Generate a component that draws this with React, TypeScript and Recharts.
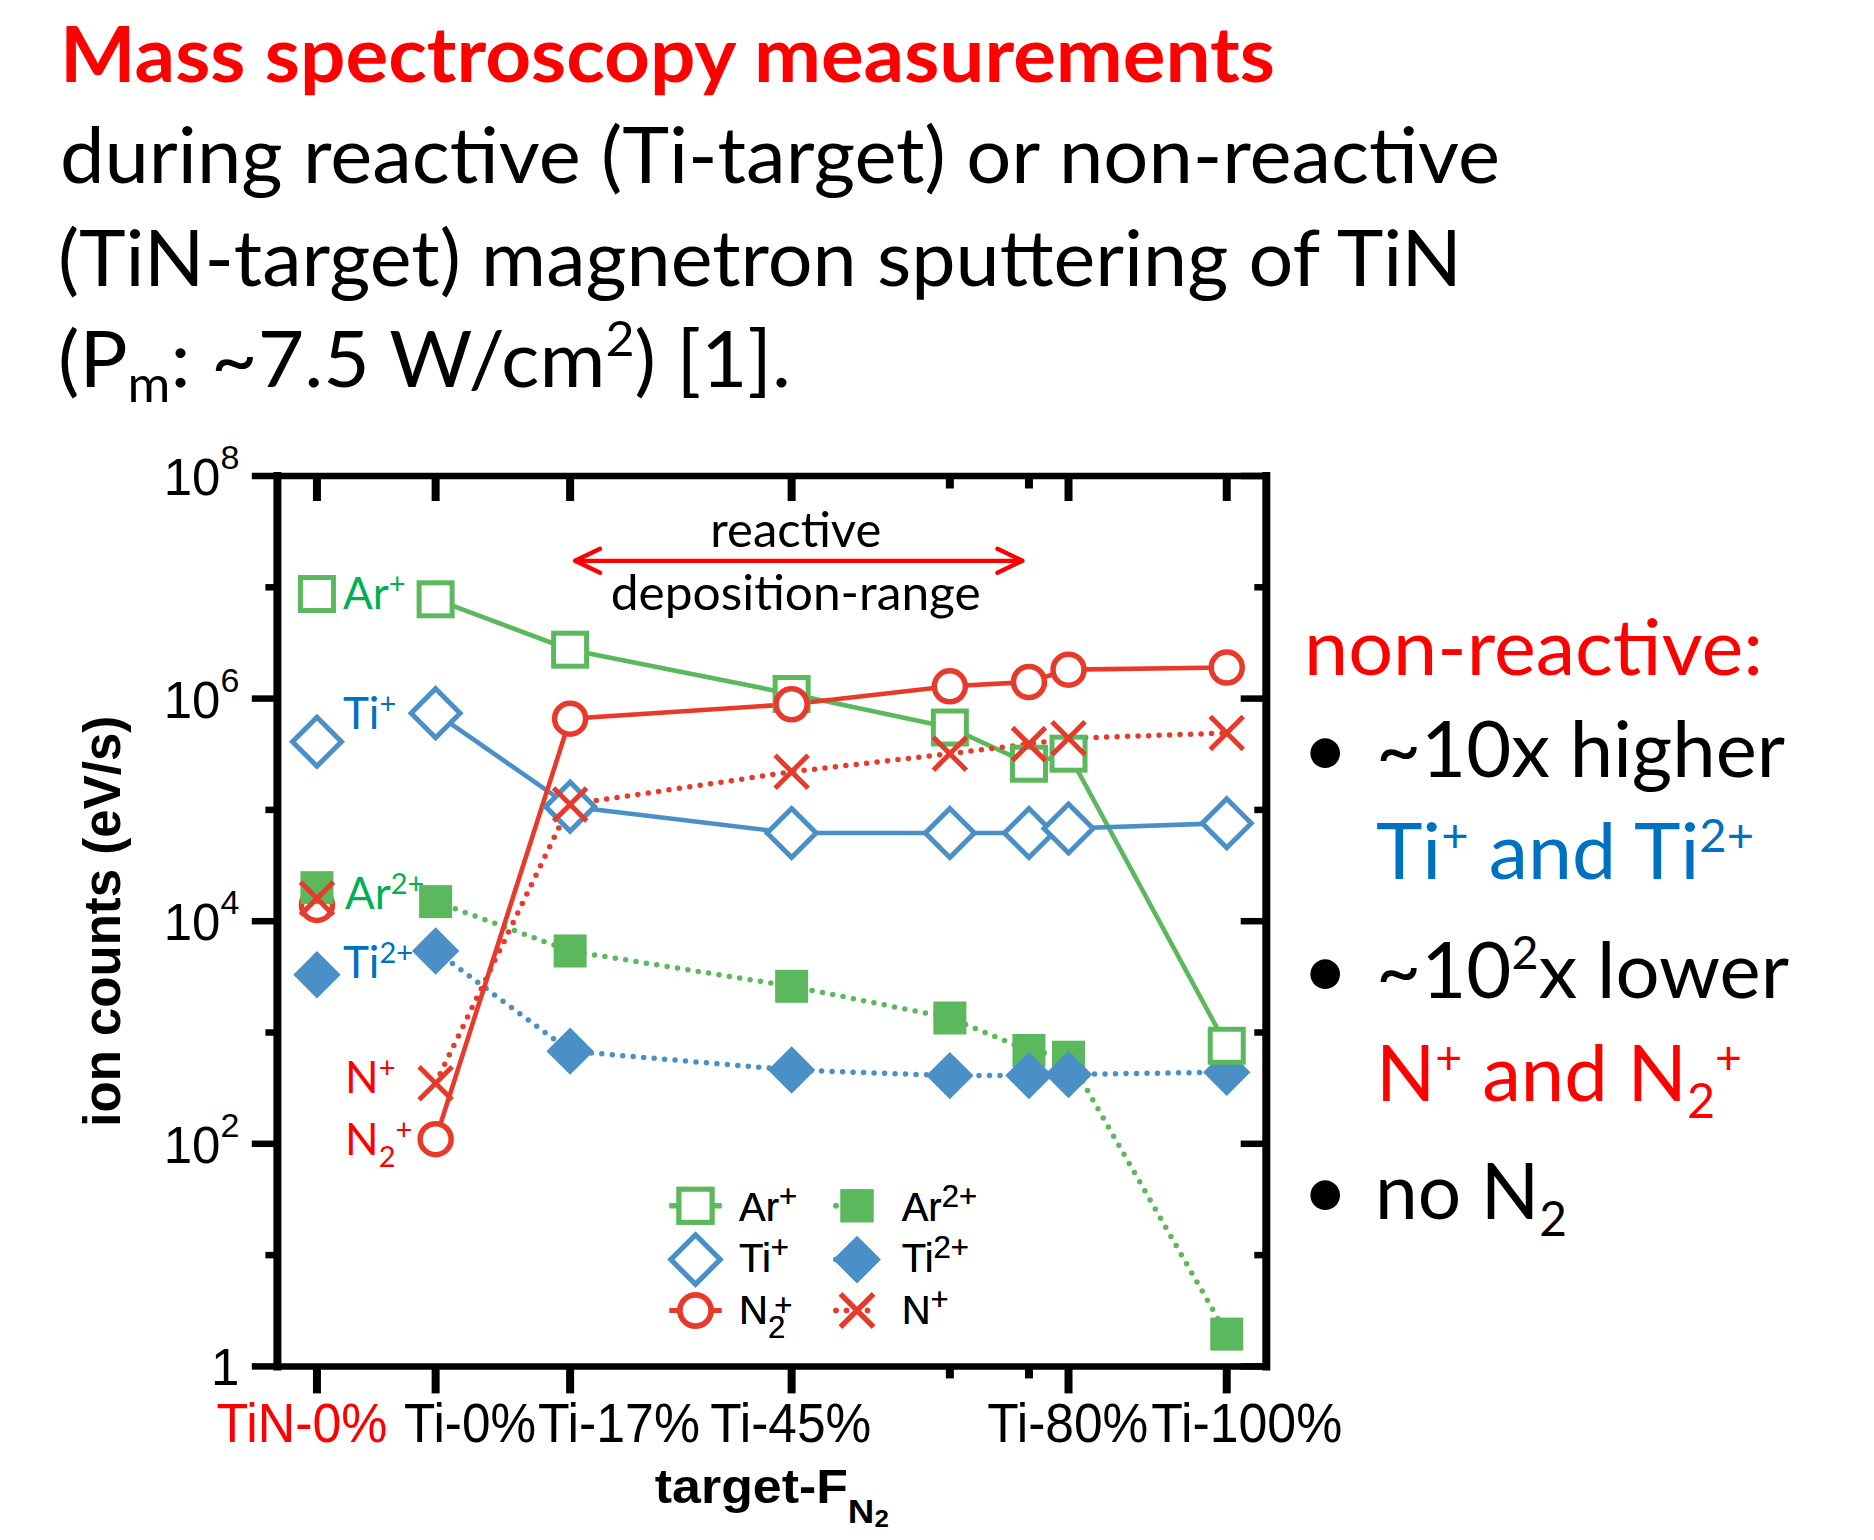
import React from 'react';
import { LineChart, Line, XAxis, YAxis, ReferenceLine, Legend } from 'recharts';

// N2 share of the gas flow for the Ti-target runs (%)
const tiTargetFlow = [0, 17, 45, 65, 75, 80, 100];
// the TiN-target run (0 % N2) is drawn left of the Ti-target runs
const tinTargetFlow = -15;

// ion counts (eV/s), Ti target
const arPlus = [7.8e6, 2.75e6, 1.1e6, 5.5e5, 2.6e5, 3.2e5, 760];
const ar2Plus = [1.5e4, 5.4e3, 2.6e3, 1.35e3, 690, 600, 1.95];
const tiPlus = [7.4e5, 1.07e5, 6.2e4, 6.2e4, 6.2e4, 6.8e4, 7.6e4];
const ti2Plus = [5.4e3, 680, 460, 410, 410, 420, 440];
const n2Plus = [110, 6.6e5, 8.9e5, 1.29e6, 1.41e6, 1.82e6, 1.9e6];
const nPlus = [350, 1.12e5, 2.2e5, 3.2e5, 3.9e5, 4.4e5, 4.9e5];

// ion counts (eV/s), TiN target
const arPlusTiN = 8.7e6;
const ar2PlusTiN = 2.0e4;
const tiPlusTiN = 4.1e5;
const ti2PlusTiN = 3.3e3;
const n2PlusTiN = 1.4e4;
const nPlusTiN = 1.6e4;

const xTicks = [-15, 0, 17, 45, 65, 75, 80, 100];
const xTickLabels = ['TiN-0%', 'Ti-0%', 'Ti-17%', 'Ti-45%', '', '', 'Ti-80%', 'Ti-100%'];
const yTicks = [1, 1e1, 1e2, 1e3, 1e4, 1e5, 1e6, 1e7, 1e8];

// reactive deposition range arrow
const reactiveFrom = 17.5;
const reactiveTo = 74.3;
const reactiveLevel = 1.73e7;

// ---- layout ----
const W = 1874;
const H = 1540;
const PLOT_LEFT = 277.4;
const PLOT_TOP = 476;
const PLOT_RIGHT = 1266.3;
const PLOT_BOTTOM = 1366.4;
const Y_AXIS_W = 200;
const X_AXIS_H = 100;

// tick labels are nudged sideways so they don't collide
const xLabelShift = [-15, 34.4, 48.8, -0.8, 0, 0, -0.8, 20];
const xLabelWidth = [171, 132, 162, 161, 0, 0, 161, 191];

const GREEN = '#5cb85c';
const BLUE = '#4a90c6';
const RED = '#e83a2a';
const TAG_GREEN = '#00b050';
const TAG_BLUE = '#0070c0';
const TAG_RED = '#ff0000';
const AXIS_FONT = '"Liberation Sans", Arial, sans-serif';
const TEXT_FONT = 'Lato, "Open Sans", sans-serif';

type MarkKind = 'openSquare' | 'square' | 'openDiamond' | 'diamond' | 'circle' | 'cross';
type Ion = { base: string; sub?: string; sup?: string };

const IONS: Record<string, Ion> = {
  'Ar+': { base: 'Ar', sup: '+' },
  'Ar2+': { base: 'Ar', sup: '2+' },
  'Ti+': { base: 'Ti', sup: '+' },
  'Ti2+': { base: 'Ti', sup: '2+' },
  'N2+': { base: 'N', sub: '2', sup: '+' },
  'N+': { base: 'N', sup: '+' },
};

const SERIES: Record<string, { kind: MarkKind; color: string; dotted: boolean }> = {
  'Ar+': { kind: 'openSquare', color: GREEN, dotted: false },
  'Ar2+': { kind: 'square', color: GREEN, dotted: true },
  'Ti+': { kind: 'openDiamond', color: BLUE, dotted: false },
  'Ti2+': { kind: 'diamond', color: BLUE, dotted: true },
  'N2+': { kind: 'circle', color: RED, dotted: false },
  'N+': { kind: 'cross', color: RED, dotted: true },
};

const LEGEND_SLOTS: Record<string, { col: number; row: number }> = {
  'Ar+': { col: 0, row: 0 },
  'Ti+': { col: 0, row: 1 },
  'N2+': { col: 0, row: 2 },
  'Ar2+': { col: 1, row: 0 },
  'Ti2+': { col: 1, row: 1 },
  'N+': { col: 1, row: 2 },
};

const tiRows = (vals: number[]) => tiTargetFlow.map((x, i) => ({ x, y: vals[i] }));
const tinRow = (v: number) => [{ x: tinTargetFlow, y: v }];

function Mark({ kind, cx, cy, color }: { kind: MarkKind; cx: number; cy: number; color: string }) {
  if (kind === 'openSquare' || kind === 'square') {
    const s = 33;
    const filled = kind === 'square';
    return (
      <rect x={cx - s / 2} y={cy - s / 2} width={s} height={s}
        fill={filled ? color : '#fff'} stroke={filled ? 'none' : color} strokeWidth={5} />
    );
  }
  if (kind === 'openDiamond' || kind === 'diamond') {
    const filled = kind === 'diamond';
    const r = filled ? 23.7 : 24.5;
    return (
      <path d={`M${cx},${cy - r}L${cx + r},${cy}L${cx},${cy + r}L${cx - r},${cy}Z`}
        fill={filled ? color : '#fff'} stroke={filled ? 'none' : color} strokeWidth={5} />
    );
  }
  if (kind === 'circle') {
    return <circle cx={cx} cy={cy} r={15.5} fill="#fff" stroke={color} strokeWidth={5.5} />;
  }
  const a = 16.5;
  return (
    <path d={`M${cx - a},${cy - a}L${cx + a},${cy + a}M${cx - a},${cy + a}L${cx + a},${cy - a}`}
      stroke={color} strokeWidth={5} fill="none" />
  );
}

// base text with a superscript / subscript charge
function ionSpans(ion: Ion, small: number, rise: number, drop: number, stack = 0, supRise = rise) {
  const out: React.ReactNode[] = [<tspan key="b">{ion.base}</tspan>];
  if (ion.sub) out.push(<tspan key="s" dy={drop} fontSize={small}>{ion.sub}</tspan>);
  if (ion.sup) {
    out.push(
      <tspan key="p" dx={ion.sub ? -stack : 0} dy={-((ion.sub ? supRise : rise) + (ion.sub ? drop : 0))} fontSize={small}>
        {ion.sup}
      </tspan>
    );
  }
  return out;
}

type Tag = { index: number; ion: string; dx: number; dy: number; color: string };

const dotWith = (name: string, tag?: Tag) => (p: any) => {
  const s = SERIES[name];
  return (
    <g key={`${name}-${p.index}`}>
      <Mark kind={s.kind} cx={p.cx} cy={p.cy} color={s.color} />
      {tag && tag.index === p.index ? (
        <text x={p.cx + tag.dx} y={p.cy + tag.dy} fill={tag.color} fontFamily={TEXT_FONT} fontSize={44}>
          {ionSpans(IONS[tag.ion], 29, 15, 12)}
        </text>
      ) : null}
    </g>
  );
};

const BottomTick = (p: any) => {
  const i = xTicks.indexOf(p.payload.value);
  const label = xTickLabels[i];
  const major = label !== '';
  return (
    <g>
      <line x1={p.x} x2={p.x} y1={p.y} y2={p.y + (major ? 27 : 12)} stroke="#000" strokeWidth={8} />
      {major ? (
        <text x={p.x + xLabelShift[i]} y={p.y + 75.3} textAnchor="middle" fontFamily={AXIS_FONT} fontSize={55}
          fill={i === 0 ? '#ff0000' : '#000'} textLength={xLabelWidth[i]} lengthAdjust="spacingAndGlyphs">
          {label}
        </text>
      ) : null}
    </g>
  );
};

const TopTick = (p: any) => {
  const major = xTickLabels[xTicks.indexOf(p.payload.value)] !== '';
  return <line x1={p.x} x2={p.x} y1={p.y} y2={p.y + (major ? 25 : 12.5)} stroke="#000" strokeWidth={8} />;
};

const LeftTick = (p: any) => {
  const exp = Math.round(Math.log10(p.payload.value));
  const major = exp % 2 === 0;
  return (
    <g>
      <line x1={p.x - (major ? 25.6 : 12)} x2={p.x} y1={p.y} y2={p.y} stroke="#000" strokeWidth={6.5} />
      {major ? (
        <text x={p.x - 38} y={p.y + 19} textAnchor="end" fontFamily={AXIS_FONT} fontSize={51} fill="#000">
          {exp === 0 ? '1' : (
            <>
              <tspan>10</tspan>
              <tspan dy={-26} fontSize={34}>{exp}</tspan>
            </>
          )}
        </text>
      ) : null}
    </g>
  );
};

const RightTick = (p: any) => {
  const exp = Math.round(Math.log10(p.payload.value));
  const major = exp % 2 === 0;
  return <line x1={p.x - (major ? 25.6 : 12)} x2={p.x} y1={p.y} y2={p.y} stroke="#000" strokeWidth={6.5} />;
};

const YTitle = (p: any) => {
  const vb = p.viewBox || { x: PLOT_LEFT - Y_AXIS_W, y: PLOT_TOP, height: PLOT_BOTTOM - PLOT_TOP };
  const x = vb.x + 42.6;
  const y = vb.y + vb.height / 2;
  return (
    <text x={x} y={y} transform={`rotate(-90 ${x} ${y})`} textAnchor="middle" fontFamily={AXIS_FONT}
      fontWeight={700} fontSize={51} fill="#000">
      ion counts (eV/s)
    </text>
  );
};

const XTitle = (p: any) => {
  const vb = p.viewBox || { x: PLOT_LEFT, y: PLOT_BOTTOM, width: PLOT_RIGHT - PLOT_LEFT };
  const x = vb.x + vb.width / 2;
  const y = vb.y + 137;
  return (
    <text x={x} y={y} textAnchor="middle" fontFamily={AXIS_FONT} fontWeight={700} fontSize={48} fill="#000"
      textLength={234} lengthAdjust="spacingAndGlyphs">
      target-F
      <tspan dy={20} fontSize={34}>N</tspan>
      <tspan dy={4} fontSize={24}>2</tspan>
    </text>
  );
};

const ReactiveArrow = (p: any) => {
  const { x1, y1, x2, y2 } = p;
  const mid = (x1 + x2) / 2 - 3;
  return (
    <g>
      <line x1={x1} y1={y1} x2={x2} y2={y2} stroke="#ff0000" strokeWidth={4.3} />
      <path d={`M${x1 + 26},${y1 - 12}L${x1 + 1},${y1}L${x1 + 26},${y1 + 12}`} fill="none" stroke="#ff0000"
        strokeWidth={4.3} strokeLinecap="round" strokeLinejoin="round" />
      <path d={`M${x2 - 26},${y2 - 12}L${x2 - 1},${y2}L${x2 - 26},${y2 + 12}`} fill="none" stroke="#ff0000"
        strokeWidth={4.3} strokeLinecap="round" strokeLinejoin="round" />
      <text x={mid} y={y1 - 14.3} textAnchor="middle" fontFamily={TEXT_FONT} fontSize={49} fill="#000"
        textLength={171} lengthAdjust="spacingAndGlyphs">reactive</text>
      <text x={mid} y={y1 + 49} textAnchor="middle" fontFamily={TEXT_FONT} fontSize={49} fill="#000"
        textLength={370} lengthAdjust="spacingAndGlyphs">deposition-range</text>
    </g>
  );
};

const LegendBox = (props: any) => {
  const entries = (props.payload || []).filter((e: any) => LEGEND_SLOTS[e.value]);
  const colX = [35.5, 197];
  const textX = [79, 241.7];
  const rowY = [35.8, 89.6, 140.5];
  const baseY = [50.7, 101.7, 154];
  return (
    <svg width={300} height={190} style={{ display: 'block', overflow: 'visible' }}>
      {entries.map((e: any) => {
        const slot = LEGEND_SLOTS[e.value];
        const s = SERIES[e.value];
        const cx = colX[slot.col];
        const cy = rowY[slot.row];
        return (
          <g key={e.value}>
            {s.dotted ? (
              <line x1={cx - 21} x2={cx + 21} y1={cy} y2={cy} stroke={s.color} strokeWidth={5.5}
                strokeDasharray="0 10.5" strokeLinecap="round" />
            ) : (
              <line x1={cx - 26} x2={cx + 26} y1={cy} y2={cy} stroke={s.color} strokeWidth={5} />
            )}
            <Mark kind={s.kind} cx={cx} cy={cy} color={s.color} />
            <text x={textX[slot.col]} y={baseY[slot.row]} fontFamily={AXIS_FONT} fontSize={40} fill="#000">
              {ionSpans(IONS[e.value], 31, 14, 14, 11, 8)}
            </text>
          </g>
        );
      })}
    </svg>
  );
};

const Notes = () => (
  <svg width={W} height={H} fontFamily={TEXT_FONT}
    style={{ position: 'absolute', left: 0, top: 0, pointerEvents: 'none' }}>
    <text x={60} y={82} fontSize={77} fontWeight={700} fill="#ff0000" textLength={1215} lengthAdjust="spacingAndGlyphs">
      Mass spectroscopy measurements
    </text>
    <text x={60} y={183} fontSize={77} fill="#000" textLength={1440} lengthAdjust="spacingAndGlyphs">
      during reactive (Ti-target) or non-reactive
    </text>
    <text x={58} y={286} fontSize={77} fill="#000" textLength={1404} lengthAdjust="spacingAndGlyphs">
      (TiN-target) magnetron sputtering of TiN
    </text>
    <text x={58} y={387} fontSize={77} fill="#000" textLength={733} lengthAdjust="spacingAndGlyphs">
      (P<tspan dy={15} fontSize={50}>m</tspan>
      <tspan dy={-15}>: ~7.5 W/cm</tspan>
      <tspan dy={-31} fontSize={48}>2</tspan>
      <tspan dy={31}>) [1].</tspan>
    </text>

    <text x={1304} y={675} fontSize={77} fill="#ff0000" textLength={459} lengthAdjust="spacingAndGlyphs">
      non-reactive:
    </text>
    {[776.5, 997.5, 1218.5].map((y) => (
      <text key={y} x={1302} y={y} fontSize={80} fill="#000">•</text>
    ))}
    <text x={1376} y={776.5} fontSize={77} fill="#000" textLength={409} lengthAdjust="spacingAndGlyphs">
      ~10x higher
    </text>
    <text x={1376} y={879} fontSize={77} fill={TAG_BLUE} textLength={378} lengthAdjust="spacingAndGlyphs">
      Ti<tspan dy={-27} fontSize={46}>+</tspan>
      <tspan dy={27}> and Ti</tspan>
      <tspan dy={-27} fontSize={46}>2+</tspan>
    </text>
    <text x={1376} y={997.5} fontSize={77} fill="#000" textLength={413} lengthAdjust="spacingAndGlyphs">
      ~10<tspan dy={-29} fontSize={46}>2</tspan>
      <tspan dy={29}>x lower</tspan>
    </text>
    <text x={1376} y={1101} fontSize={77} fill="#ff0000" textLength={366} lengthAdjust="spacingAndGlyphs">
      N<tspan dy={-27} fontSize={46}>+</tspan>
      <tspan dy={27}> and N</tspan>
      <tspan dy={17} fontSize={48}>2</tspan>
      <tspan dy={-44} fontSize={46}>+</tspan>
    </text>
    <text x={1375} y={1218.5} fontSize={77} fill="#000" textLength={192} lengthAdjust="spacingAndGlyphs">
      no N<tspan dy={17} fontSize={48}>2</tspan>
    </text>
  </svg>
);

const seriesLine = (name: string, rows: { x: number; y: number }[], opts: { legend?: boolean; tag?: Tag } = {}) => {
  const s = SERIES[name];
  return (
    <Line
      key={`${name}-${rows.length}`}
      data={rows}
      dataKey="y"
      name={name}
      stroke={s.color}
      strokeWidth={s.dotted ? 5.5 : 4.6}
      strokeDasharray={s.dotted ? '0 10.5' : undefined}
      strokeLinecap="round"
      dot={dotWith(name, opts.tag)}
      activeDot={false}
      legendType={opts.legend === false ? 'none' : 'line'}
      isAnimationActive={false}
    />
  );
};

export default function App() {
  return (
    <div style={{ position: 'absolute', left: 0, top: 0, width: W, height: H, background: '#fff', overflow: 'hidden' }}>
      <div style={{ position: 'absolute', left: 0, top: 0 }}>
        <LineChart
          width={W}
          height={H}
          margin={{
            top: PLOT_TOP,
            left: PLOT_LEFT - Y_AXIS_W,
            right: W - PLOT_RIGHT,
            bottom: H - PLOT_BOTTOM - X_AXIS_H,
          }}
        >
          <XAxis
            dataKey="x"
            type="number"
            domain={[-20, 105]}
            ticks={xTicks}
            interval={0}
            allowDataOverflow
            height={X_AXIS_H}
            tickSize={0}
            tickMargin={0}
            tickLine={false}
            tick={BottomTick}
            axisLine={{ stroke: '#000', strokeWidth: 6.5, strokeLinecap: 'square' }}
            label={XTitle}
          />
          <XAxis
            xAxisId="top"
            orientation="top"
            mirror
            dataKey="x"
            type="number"
            domain={[-20, 105]}
            ticks={xTicks}
            interval={0}
            allowDataOverflow
            tickSize={0}
            tickMargin={0}
            tickLine={false}
            tick={TopTick}
            axisLine={{ stroke: '#000', strokeWidth: 6.5, strokeLinecap: 'square' }}
          />
          <YAxis
            scale="log"
            type="number"
            domain={[1, 1e8]}
            ticks={yTicks}
            interval={0}
            allowDataOverflow
            width={Y_AXIS_W}
            tickSize={0}
            tickMargin={0}
            tickLine={false}
            tick={LeftTick}
            axisLine={{ stroke: '#000', strokeWidth: 8, strokeLinecap: 'square' }}
            label={YTitle}
          />
          <YAxis
            yAxisId="right"
            orientation="right"
            mirror
            scale="log"
            type="number"
            domain={[1, 1e8]}
            ticks={yTicks}
            interval={0}
            allowDataOverflow
            tickSize={0}
            tickMargin={0}
            tickLine={false}
            tick={RightTick}
            axisLine={{ stroke: '#000', strokeWidth: 8, strokeLinecap: 'square' }}
          />

          <ReferenceLine
            segment={[{ x: reactiveFrom, y: reactiveLevel }, { x: reactiveTo, y: reactiveLevel }]}
            shape={ReactiveArrow}
            ifOverflow="visible"
          />

          {seriesLine('Ar2+', tiRows(ar2Plus))}
          {seriesLine('Ti2+', tiRows(ti2Plus))}
          {seriesLine('Ar+', tiRows(arPlus))}
          {seriesLine('Ti+', tiRows(tiPlus))}
          {seriesLine('N+', tiRows(nPlus), { tag: { index: 0, ion: 'N+', dx: -90.6, dy: 10, color: TAG_RED } })}
          {seriesLine('N2+', tiRows(n2Plus), { tag: { index: 0, ion: 'N2+', dx: -90.6, dy: 16, color: TAG_RED } })}

          {seriesLine('Ti+', tinRow(tiPlusTiN), { legend: false, tag: { index: 0, ion: 'Ti+', dx: 26, dy: -12.8, color: TAG_BLUE } })}
          {seriesLine('Ti2+', tinRow(ti2PlusTiN), { legend: false, tag: { index: 0, ion: 'Ti2+', dx: 26, dy: 3.5, color: TAG_BLUE } })}
          {seriesLine('N2+', tinRow(n2PlusTiN), { legend: false })}
          {seriesLine('Ar+', tinRow(arPlusTiN), { legend: false, tag: { index: 0, ion: 'Ar+', dx: 26, dy: 15.4, color: TAG_GREEN } })}
          {seriesLine('Ar2+', tinRow(ar2PlusTiN), { legend: false, tag: { index: 0, ion: 'Ar2+', dx: 28, dy: 21.6, color: TAG_GREEN } })}
          {seriesLine('N+', tinRow(nPlusTiN), { legend: false })}

          <Legend
            layout="horizontal"
            verticalAlign="middle"
            align="center"
            content={LegendBox}
            wrapperStyle={{ left: 660, top: 1170, width: 300, height: 190 }}
          />
        </LineChart>
      </div>
      <Notes />
    </div>
  );
}
